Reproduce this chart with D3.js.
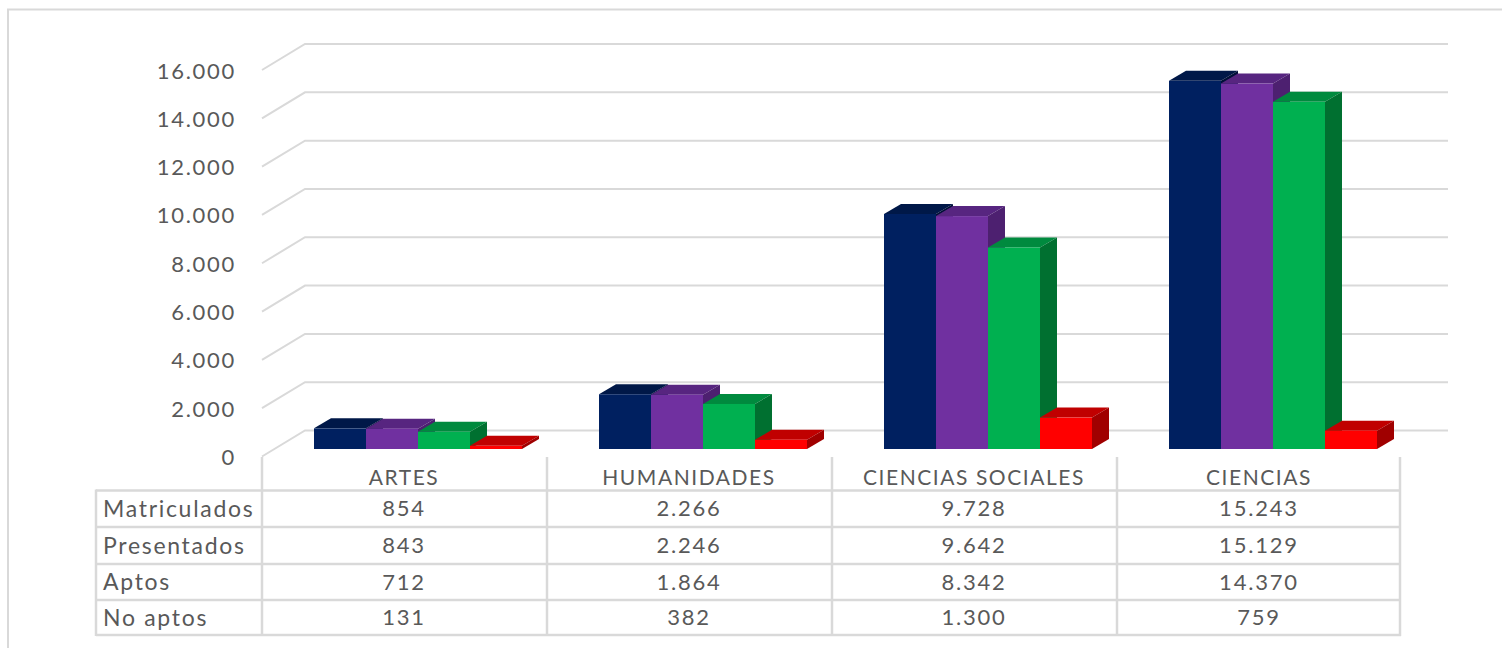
<!DOCTYPE html>
<html>
<head>
<meta charset="utf-8">
<script src="https://cdn.jsdelivr.net/npm/d3@7"></script>
<style>
  html, body { margin: 0; padding: 0; background: #fff; overflow: hidden; }
  text { font-family: Lato, "Open Sans", sans-serif; fill: #595959; }
</style>
</head>
<body>
<svg id="chart" width="1502" height="648"></svg>
<script>
const categories = ["ARTES", "HUMANIDADES", "CIENCIAS SOCIALES", "CIENCIAS"];
const seriesNames = ["Matriculados", "Presentados", "Aptos", "No aptos"];
const matriculados = [854, 2266, 9728, 15243];
const presentados = [843, 2246, 9642, 15129];
const aptos = [712, 1864, 8342, 14370];
const noAptos = [131, 382, 1300, 759];
const yTicks = [0, 2000, 4000, 6000, 8000, 10000, 12000, 14000, 16000];

const seriesValues = [matriculados, presentados, aptos, noAptos];
const faceColors = ["#002060", "#7030A0", "#00B050", "#FF0000"];
const topColors = ["#001848", "#572580", "#008a3e", "#C00000"];
const sideColors = ["#001038", "#4d2070", "#007030", "#A00000"];

const grid = "#d9d9d9";
const svg = d3.select("#chart");

//Number format with a dot for thousands
const fmt = d3.formatLocale({ decimal: ",", thousands: ".", grouping: [3], currency: ["", ""] }).format(",d");

const y = d3.scaleLinear().domain([0, 16000]).range([456.5, 70]);
const x = d3.scaleBand().domain(categories).range([262, 1402]);
const xInner = d3.scaleBand().domain(seriesNames).range([52, 260]);

//Depth of the floor and of the bars
const wallDx = 43, wallDy = -26;
const barDx = 17, barDy = -10;
const barShift = -7.5;

//Chart frame, cut by the picture on the right and at the bottom
svg.append("path")
    .attr("d", "M8,648V9.5H1502")
    .attr("fill", "none")
    .attr("stroke", "#d9d9d9")
    .attr("stroke-width", 2);

//Gridlines go back along the side wall, then across
svg.append("g").selectAll("path")
    .data(yTicks)
    .enter()
    .append("path")
    .attr("d", (d) => `M262,${y(d)}l${wallDx},${wallDy}H1448`)
    .attr("fill", "none")
    .attr("stroke", grid)
    .attr("stroke-width", 2);

//Value axis, labels only
const axis = svg.append("g")
    .attr("transform", "translate(236,1)")
    .call(d3.axisLeft(y).tickValues(yTicks).tickFormat(fmt).tickSize(0).tickPadding(0));
axis.select(".domain").remove();
axis.selectAll("text")
    .style("font-size", "22px")
    .style("letter-spacing", "1.7px")
    .style("font-family", "Lato, sans-serif")
    .attr("fill", "#595959");

//Bars, one group per category
const bars = svg.append("g").selectAll("g")
    .data(categories)
    .enter()
    .append("g")
    .attr("transform", (d) => `translate(${x(d)},${barShift})`);

seriesNames.forEach((name, s) => {
    const w = xInner.bandwidth();
    const bar = bars.append("g").datum((d, i) => seriesValues[s][i]);
    const left = xInner(name);

    bar.append("path")
        .attr("fill", topColors[s])
        .attr("d", (v) => `M${left},${y(v)}l${barDx},${barDy}h${w}l${-barDx},${-barDy}z`);
    bar.append("path")
        .attr("fill", sideColors[s])
        .attr("d", (v) => `M${left + w},${y(v)}l${barDx},${barDy}V${y(0) + barDy}l${-barDx},${-barDy}z`);
    bar.append("rect")
        .attr("fill", faceColors[s])
        .attr("x", left)
        .attr("y", (v) => y(v))
        .attr("width", w)
        .attr("height", (v) => y(0) - y(v));
});

//Data table under the chart
const rowLines = [490.5, 527, 564, 600, 635];
const colLines = x.domain().map((d) => x(d)).concat([1400]);

const table = svg.append("g")
    .attr("stroke", grid)
    .attr("stroke-width", 2.5);
table.selectAll(".row-line")
    .data(rowLines)
    .enter()
    .append("line")
    .attr("class", "row-line")
    .attr("x1", 96)
    .attr("x2", 1401)
    .attr("y1", (d) => d)
    .attr("y2", (d) => d);
table.selectAll(".col-line")
    .data(colLines)
    .enter()
    .append("line")
    .attr("class", "col-line")
    .attr("x1", (d) => d)
    .attr("x2", (d) => d)
    .attr("y1", 457)
    .attr("y2", 636);
table.append("line")
    .attr("x1", 96)
    .attr("x2", 96)
    .attr("y1", 489.5)
    .attr("y2", 636);

const centerX = (d) => x(d) + x.bandwidth() / 2 - 0.5;

svg.append("g").selectAll("text")
    .data(categories)
    .enter()
    .append("text")
    .attr("x", centerX)
    .attr("y", 478)
    .attr("dy", "0.35em")
    .attr("text-anchor", "middle")
    .style("font-size", "21px")
    .style("letter-spacing", "1.55px")
    .text((d) => d);

seriesNames.forEach((name, s) => {
    const rowY = (rowLines[s] + rowLines[s + 1]) / 2;

    svg.append("text")
        .attr("x", 103)
        .attr("y", rowY)
        .attr("dy", "0.35em")
        .style("font-size", "23px")
        .style("letter-spacing", "1.7px")
        .text(name);

    svg.append("g").selectAll("text")
        .data(categories)
        .enter()
        .append("text")
        .attr("x", centerX)
        .attr("y", rowY)
        .attr("dy", "0.35em")
        .attr("text-anchor", "middle")
        .style("font-size", "22px")
        .style("letter-spacing", "1.8px")
        .text((d, i) => fmt(seriesValues[s][i]));
});
</script>
</body>
</html>
